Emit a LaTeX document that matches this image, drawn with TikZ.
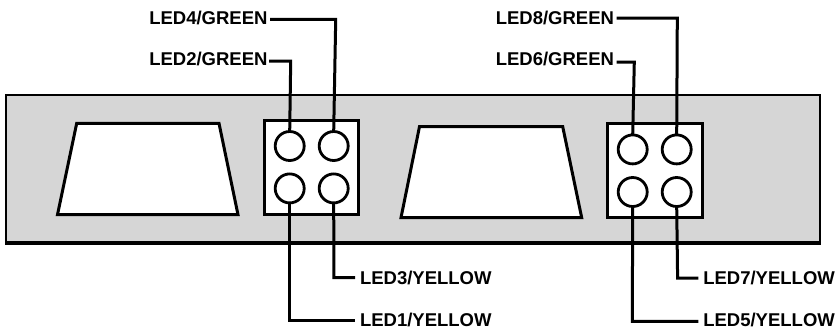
\documentclass[tikz,border=0pt]{standalone}
\usepackage{fontspec}
\setmainfont{Liberation Sans}
\tikzset{
  outline/.style={draw=black,line width=3bp,miter limit=10},
  wire/.style={draw=black,line width=3bp,line join=miter},
  led/.style={circle,draw=black,fill=white,line width=2.8bp,minimum size=29bp,inner sep=0pt,outer sep=0pt},
  lab/.style={inner sep=0pt,outer sep=0pt,font=\fontsize{18.5bp}{20bp}\selectfont\bfseries,text height=13bp,text depth=0pt}
}
\begin{document}
\begin{tikzpicture}[x=1bp,y=-1bp]
\useasboundingbox (0,0) rectangle (840,331);
% panel
\path[fill=black!16] (6,95) rectangle (820,243);
\draw[black,line width=2.2bp] (6,243) -- (6,95) -- (820,95) -- (820,243);
\draw[black,line width=3.8bp] (5,243) -- (821,243);
% openings and LED blocks
\path[outline,fill=white] (76.7,123.3) -- (219,123.3) -- (238,214.7) -- (57.5,214.7) -- cycle;
\path[outline,fill=white] (419.5,126.6) -- (562.7,126.6) -- (581.7,217.7) -- (401,217.7) -- cycle;
\path[outline,fill=white] (264,120.3) rectangle (358.7,214.7);
\path[outline,fill=white] (607.7,123.5) rectangle (702.3,217.7);
% LEDs
\node[led] (c2) at (289.7,146) {};
\node[led] (c4) at (333.7,146) {};
\node[led] (c1) at (289.7,188.4) {};
\node[led] (c3) at (333.7,188.4) {};
\node[led] (c6) at (632.7,149.4) {};
\node[led] (c8) at (676.7,149.4) {};
\node[led] (c5) at (632.7,192) {};
\node[led] (c7) at (676.7,192) {};
% labels
\node[lab,anchor=east] (l4) at (267.5,17.7) {LED4/GREEN};
\node[lab,anchor=east] (l2) at (267.5,59.4) {LED2/GREEN};
\node[lab,anchor=east] (l8) at (614,17.7) {LED8/GREEN};
\node[lab,anchor=east] (l6) at (614,59.4) {LED6/GREEN};
\node[lab,anchor=west] (l3) at (360,278) {LED3/YELLOW};
\node[lab,anchor=west] (l1) at (360,320.3) {LED1/YELLOW};
\node[lab,anchor=west] (l7) at (703.3,278) {LED7/YELLOW};
\node[lab,anchor=west] (l5) at (703.3,320.3) {LED5/YELLOW};
% connector corners
\coordinate (j4) at (335.7,19.3);
\coordinate (j2) at (290.7,61);
\coordinate (j8) at (677.3,18);
\coordinate (j6) at (634.3,62);
\coordinate (j3) at (333.9,277.5);
\coordinate (j1) at (289.7,320.5);
\coordinate (j7) at (677.6,278);
\coordinate (j5) at (632.3,321.3);
% connectors
\draw[wire] ([xshift=2.5bp]l4.east |- j4) -- (j4) -- (c4.north);
\draw[wire] ([xshift=1.5bp]l2.east |- j2) -- (j2) -- (c2.north);
\draw[wire] ([xshift=2.7bp]l8.east |- j8) -- (j8) -- (c8.north);
\draw[wire] ([xshift=2.7bp]l6.east |- j6) -- (j6) -- (c6.north);
\draw[wire] (c3.south) -- (j3) -- ([xshift=-5bp]l3.west |- j3);
\draw[wire] (c1.south) -- (j1) -- ([xshift=-5bp]l1.west |- j1);
\draw[wire] (c7.south) -- (j7) -- ([xshift=-5bp]l7.west |- j7);
\draw[wire] (c5.south) -- (j5) -- ([xshift=-5bp]l5.west |- j5);
\end{tikzpicture}
\end{document}
